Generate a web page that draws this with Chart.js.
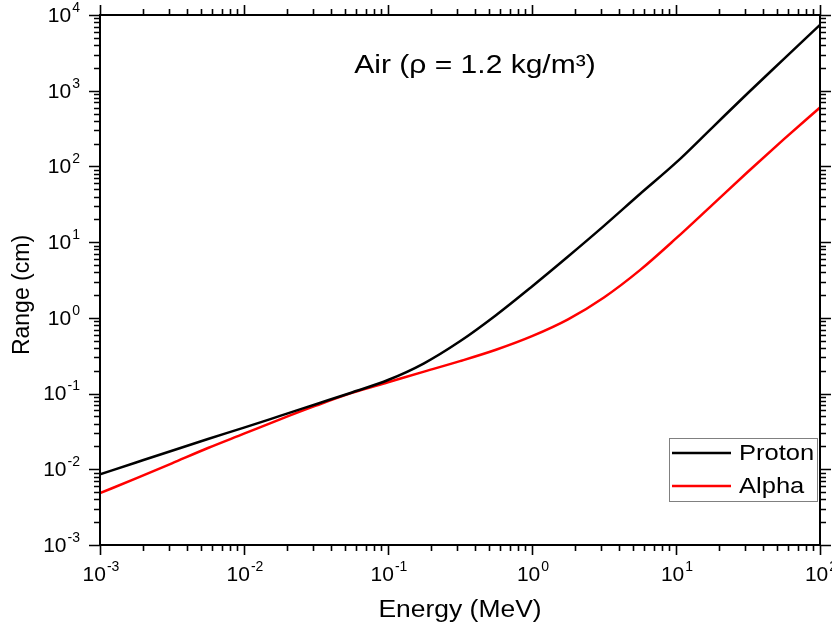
<!DOCTYPE html>
<html>
<head>
<meta charset="utf-8">
<script src="https://cdn.jsdelivr.net/npm/chart.js@4/dist/chart.umd.min.js"></script>
<style>
  html,body{margin:0;padding:0;background:#fff;}
  canvas{display:block;}
</style>
</head>
<body>
<canvas id="c" width="832" height="633"></canvas>
<script>
// Energy grid (MeV) and CSDA range in air (cm)
const ENERGY = [0.001,0.00178,0.00316,0.00562,0.01,0.0178,0.0316,0.0562,0.1,0.178,0.316,0.562,1,1.78,3.16,5.62,10,17.8,31.6,56.2,100];
const PROTON = [0.00857,0.0123,0.0176,0.0251,0.0355,0.0507,0.0724,0.1035,0.151,0.251,0.490,1.084,2.60,6.46,16.4,43.2,112,324,933,2630,7413];
const ALPHA  = [0.00483,0.00759,0.0120,0.0191,0.0295,0.0457,0.0692,0.102,0.141,0.195,0.268,0.379,0.573,0.955,1.86,4.27,11.2,30.9,85.1,229,600];
const SERIES = ["Proton","Alpha"];
const COLORS = ["#000000","#ff0000"];
const X_EXP = [-3,-2,-1,0,1,2];
const Y_EXP = [-3,-2,-1,0,1,2,3,4];
const TITLE = "Air (\u03c1 = 1.2 kg/m\u00b3)";
const X_TITLE = "Energy (MeV)";
const Y_TITLE = "Range (cm)";

const FONT = "'Liberation Sans', Arial, sans-serif";

function pow10Label(ctx, e, x, y, align){
  // "10" with a raised exponent; align = 'center' or 'right'
  ctx.font = `21px ${FONT}`;
  const wb = ctx.measureText("10").width;
  ctx.font = `14px ${FONT}`;
  const es = e < 0 ? "-" + (-e) : String(e);
  const we = ctx.measureText(es).width;
  const tot = wb + we + 1;
  let x0 = align === "right" ? x - tot : x - tot/2;
  ctx.textAlign = "left"; ctx.textBaseline = "middle";
  ctx.font = `21px ${FONT}`;
  ctx.fillText("10", x0, y + 1);
  ctx.font = `14px ${FONT}`;
  ctx.fillText(es, x0 + wb + 1, y - 7);
}

// text that is a little wider than the font, like the original
function wideText(ctx, s, x, y, size, sx, align){
  ctx.save();
  ctx.font = `${size}px ${FONT}`;
  ctx.textBaseline = "middle"; ctx.textAlign = align;
  ctx.translate(x, y); ctx.scale(sx, 1);
  ctx.fillText(s, 0, 0);
  ctx.restore();
}

const frame = {
  id: "frame",
  afterDraw(chart){
    const {ctx, chartArea:a, scales:{x, y}} = chart;
    ctx.save();
    ctx.strokeStyle = "#000"; ctx.fillStyle = "#000";
    ctx.lineWidth = 2;
    ctx.strokeRect(a.left, a.top, a.right - a.left, a.bottom - a.top);
    ctx.lineWidth = 1.6;
    X_EXP.forEach(e => {
      for (let m = 1; m <= 9; m++){
        const v = m * Math.pow(10, e);
        if (v > 100 * 1.0001) break;
        const px = Math.round(x.getPixelForValue(v)) + 0.5;
        const len = m === 1 ? 10 : 6;
        ctx.beginPath();
        ctx.moveTo(px, a.bottom); ctx.lineTo(px, a.bottom + len);
        ctx.moveTo(px, a.top); ctx.lineTo(px, a.top - len);
        ctx.stroke();
      }
    });
    Y_EXP.forEach(e => {
      for (let m = 1; m <= 9; m++){
        const v = m * Math.pow(10, e);
        if (v > 1e4 * 1.0001) break;
        const py = Math.round(y.getPixelForValue(v)) + 0.5;
        const len = m === 1 ? 11 : 6;
        ctx.beginPath();
        ctx.moveTo(a.left, py); ctx.lineTo(a.left - len, py);
        ctx.moveTo(a.right, py); ctx.lineTo(a.right + len, py);
        ctx.stroke();
      }
    });
    X_EXP.forEach(e => pow10Label(ctx, e, x.getPixelForValue(Math.pow(10, e)) + 1, a.bottom + 29, "center"));
    Y_EXP.forEach(e => pow10Label(ctx, e, a.left - 20, y.getPixelForValue(Math.pow(10, e)), "right"));
    // axis titles
    wideText(ctx, X_TITLE, (a.left + a.right)/2, 611, 23, 1.15, "center");
    ctx.save();
    ctx.translate(23, (a.top + a.bottom)/2 + 15);
    ctx.rotate(-Math.PI/2);
    ctx.font = `23px ${FONT}`;
    ctx.textAlign = "center"; ctx.textBaseline = "middle";
    ctx.fillText(Y_TITLE, 0, 0);
    ctx.restore();
    // title
    wideText(ctx, TITLE, 475, 66, 25, 1.2, "center");
    // legend
    ctx.fillStyle = "#fff";
    ctx.fillRect(669, 438, 148, 63);
    ctx.strokeStyle = "#808080"; ctx.lineWidth = 1;
    ctx.strokeRect(669.5, 438.5, 148, 63);
    SERIES.forEach((name, i) => {
      const ly = 453 + i * 33;
      ctx.strokeStyle = COLORS[i]; ctx.lineWidth = 2.5;
      ctx.beginPath(); ctx.moveTo(672, ly); ctx.lineTo(731, ly); ctx.stroke();
      ctx.fillStyle = "#000";
      wideText(ctx, name, 739, ly + 1, 22, 1.16, "left");
    });
    ctx.restore();
  }
};

const hidden = {display:false, drawTicks:false};
new Chart(document.getElementById("c"), {
  type: "line",
  data: {
    datasets: [PROTON, ALPHA].map((vals, i) => ({
      label: SERIES[i],
      data: ENERGY.map((e, k) => ({x: e, y: vals[k]})),
      borderColor: COLORS[i],
      borderWidth: 2.5,
      pointRadius: 0,
      fill: false,
      cubicInterpolationMode: "monotone"
    }))
  },
  options: {
    responsive: false,
    animation: false,
    layout: {padding: {left: 100, right: 12, top: 15, bottom: 88}},
    plugins: {legend: {display: false}, tooltip: {enabled: false}, title: {display: false}},
    scales: {
      x: {type: "logarithmic", min: 0.001, max: 100, grid: hidden, border: {display: false}, ticks: {display: false}},
      y: {type: "logarithmic", min: 0.001, max: 10000, grid: hidden, border: {display: false}, ticks: {display: false}}
    }
  },
  plugins: [frame]
});
</script>
</body>
</html>
